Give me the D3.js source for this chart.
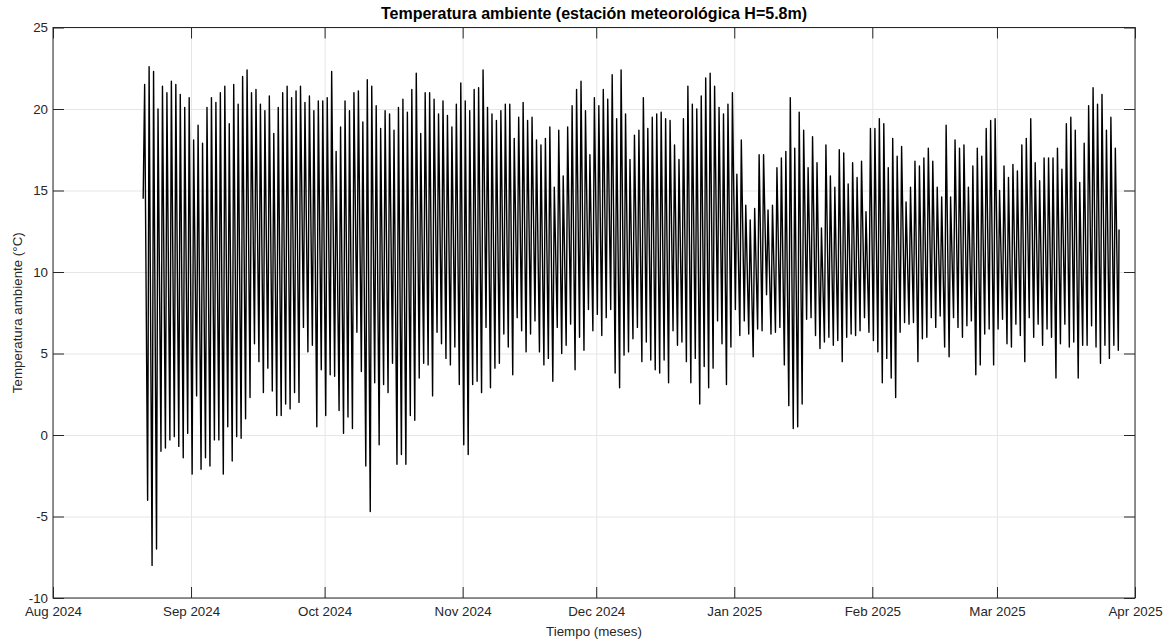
<!DOCTYPE html>
<html>
<head>
<meta charset="utf-8">
<script src="https://cdn.jsdelivr.net/npm/d3@7"></script>
<style>
body { margin: 0; background: #fff; }
text { font-family: "Liberation Sans", Arial, Helvetica, sans-serif; }
</style>
</head>
<body>
<script>
const width = 1174;
const height = 642;
const margin = {left: 53, right: 39, top: 27.5, bottom: 44};
const innerW = width - margin.left - margin.right;
const innerH = height - margin.top - margin.bottom;

// first day of the record, one entry per day after it
const startDay = Date.UTC(2024, 7, 21);
const minHour = 6;
const maxHour = 14;

// daily minimum (early morning) readings, °C
const tmin = [
  14.5,-4.0,-8.0,-7.0,-1.0,-0.8,-0.3,-0.1,-0.7,-1.4,0.1,-2.4,2.4,-2.1,-1.4,-1.9,-0.3,-0.3,-2.4,0.5,-1.6,
  -0.1,-0.2,1.0,2.3,5.6,4.5,2.6,4.1,2.7,1.2,1.2,1.9,1.6,2.6,2.0,6.6,5.1,5.5,0.5,4.0,1.2,3.7,3.6,
  1.5,0.1,1.1,0.4,6.3,3.9,-1.9,-4.7,3.2,-0.6,3.1,2.6,4.4,-1.8,-1.2,-1.8,1.2,0.9,3.5,4.4,4.3,2.4,
  6.3,5.6,4.7,4.3,5.4,3.1,-0.6,-1.2,3.1,3.3,2.6,6.6,2.9,4.1,4.4,6.2,5.4,3.7,7.2,6.4,5.1,6.2,7.0,
  5.1,4.3,4.7,3.3,6.6,5.0,5.5,6.8,4.0,6.0,5.2,7.7,6.4,7.4,6.1,7.2,7.7,3.8,2.9,4.9,5.1,5.9,
  6.6,4.5,5.7,4.6,4.0,3.8,4.6,3.2,6.4,5.5,5.7,4.5,3.2,4.7,1.9,4.2,2.9,4.1,7.0,5.6,3.1,5.4,
  7.7,6.1,7.0,6.2,4.8,6.5,6.4,8.6,6.2,6.3,6.6,4.3,1.8,0.4,0.5,1.9,7.1,7.2,6.1,5.3,5.7,6.0,5.5,
  5.8,4.5,6.0,6.2,6.1,6.4,7.2,6.3,5.8,5.1,3.2,4.7,3.5,2.3,6.3,6.9,6.8,6.9,4.5,5.9,6.0,7.2,
  6.6,7.3,5.4,4.8,7.2,6.6,6.0,6.7,7.0,3.7,4.3,6.2,6.5,4.3,6.5,7.1,5.6,5.4,6.8,6.1,4.5,7.2,6.0,
  6.8,5.5,6.5,6.0,3.5,5.6,6.8,5.4,5.7,3.5,5.5,5.5,6.7,5.4,4.4,5.5,4.7,5.5,5.2
];

// daily maximum (afternoon) readings, °C
const tmax = [
  21.5,22.6,22.3,20.0,21.4,21.0,21.7,21.5,20.9,20.1,20.7,18.1,19.0,17.9,20.1,20.7,20.4,21.0,21.4,19.1,21.5,
  20.3,22.0,22.4,21.0,21.2,20.3,19.9,20.8,18.5,20.1,21.0,21.4,20.7,21.1,21.4,20.4,20.8,19.9,20.5,20.5,20.7,22.3,
  17.4,18.9,20.5,19.9,21.0,21.1,19.2,21.8,21.4,20.2,18.8,19.9,19.7,18.7,20.1,20.6,19.8,21.2,22.2,18.5,21.0,21.0,20.6,
  19.7,20.5,19.6,18.9,20.3,21.6,20.5,19.9,21.2,21.3,22.4,20.1,19.7,19.3,19.9,20.3,20.3,18.2,19.5,20.4,19.3,19.5,
  18.1,17.8,18.2,18.9,15.2,18.7,15.9,18.9,20.2,21.2,21.7,19.9,17.2,20.7,20.2,21.2,20.6,22.1,19.4,22.4,19.7,16.9,18.4,
  18.7,20.7,18.8,19.5,19.7,19.8,19.4,19.3,17.8,16.9,19.4,21.4,20.3,20.0,20.8,21.9,22.2,21.4,20.1,19.7,20.3,21.0,
  16.0,18.1,14.1,13.2,13.9,17.2,17.2,13.8,14.1,16.4,17.0,17.4,20.7,17.6,19.8,18.7,16.4,18.3,16.7,12.7,17.8,15.9,
  15.2,17.5,17.3,15.4,16.7,15.8,16.8,13.7,18.8,18.8,19.4,19.1,16.4,18.2,17.1,17.7,14.3,15.2,16.8,16.5,17.0,17.6,16.8,
  15.2,14.6,19.0,14.6,18.1,17.6,17.8,15.2,16.5,17.6,17.1,18.8,19.3,19.4,15.0,16.5,15.8,16.6,16.2,17.8,18.2,19.4,
  16.7,15.6,17.0,17.0,17.0,17.6,16.3,19.1,19.5,18.7,15.5,17.9,20.2,21.3,20.3,20.9,18.7,19.5,17.6
];

// last reading of the record
const lastValue = 12.6;
const lastHour = 10;

const yTicks = [-10, -5, 0, 5, 10, 15, 20, 25];
const xTicks = [
  new Date(Date.UTC(2024, 7, 1)), new Date(Date.UTC(2024, 8, 1)), new Date(Date.UTC(2024, 9, 1)),
  new Date(Date.UTC(2024, 10, 1)), new Date(Date.UTC(2024, 11, 1)), new Date(Date.UTC(2025, 0, 1)),
  new Date(Date.UTC(2025, 1, 1)), new Date(Date.UTC(2025, 2, 1)), new Date(Date.UTC(2025, 3, 1))
];
const monthNames = ['Jan','Feb','Mar','Apr','May','Jun','Jul','Aug','Sep','Oct','Nov','Dec'];

const hour = 3600 * 1000;
const day = 24 * hour;
const points = [];
tmin.forEach((v, i) => {
  points.push({t: new Date(startDay + i * day + minHour * hour), v: v});
  if (i < tmax.length) points.push({t: new Date(startDay + i * day + maxHour * hour), v: tmax[i]});
});
points.push({t: new Date(startDay + (tmin.length - 1) * day + lastHour * hour), v: lastValue});

const x = d3.scaleUtc()
  .domain([xTicks[0], xTicks[xTicks.length - 1]])
  .range([0, innerW]);
const y = d3.scaleLinear()
  .domain([-10, 25])
  .range([innerH, 0]);

const svg = d3.select("body").append("svg")
  .attr("width", width)
  .attr("height", height);

const plot = svg.append("g")
  .attr("transform", `translate(${margin.left},${margin.top})`);

// grid
plot.append("g")
  .attr("class", "grid")
  .call(d3.axisLeft(y).tickValues(yTicks).tickSize(-innerW).tickFormat(""))
  .call(g => g.select(".domain").remove())
  .call(g => g.selectAll("line").attr("stroke", "#e6e6e6"));
plot.append("g")
  .attr("class", "grid")
  .attr("transform", `translate(0,${innerH})`)
  .call(d3.axisBottom(x).tickValues(xTicks).tickSize(-innerH).tickFormat(""))
  .call(g => g.select(".domain").remove())
  .call(g => g.selectAll("line").attr("stroke", "#e6e6e6"));

// data
plot.append("path")
  .datum(points)
  .attr("fill", "none")
  .attr("stroke", "#000")
  .attr("stroke-width", 1.4)
  .attr("stroke-linejoin", "round")
  .attr("d", d3.line().x(d => x(d.t)).y(d => y(d.v)));

// axes, ticks pointing inward on all sides
const tickLen = 11;
const axisColor = "#262626";
const fmtMonth = d => `${monthNames[d.getUTCMonth()]} ${d.getUTCFullYear()}`;

const styleAxis = g => {
  g.select(".domain").remove();
  g.selectAll("line").attr("stroke", axisColor);
  g.selectAll("text").attr("fill", axisColor).style("font-size", "13.33px");
};

plot.append("g")
  .call(d3.axisLeft(y).tickValues(yTicks).tickSize(-tickLen).tickPadding(5).tickFormat(d => String(d)))
  .call(styleAxis);
plot.append("g")
  .attr("transform", `translate(${innerW},0)`)
  .call(d3.axisRight(y).tickValues(yTicks).tickSize(-tickLen).tickFormat(""))
  .call(styleAxis);
plot.append("g")
  .attr("transform", `translate(0,${innerH})`)
  .call(d3.axisBottom(x).tickValues(xTicks).tickSize(-tickLen).tickPadding(9).tickFormat(fmtMonth))
  .call(styleAxis);
plot.append("g")
  .call(d3.axisTop(x).tickValues(xTicks).tickSize(-tickLen).tickFormat(""))
  .call(styleAxis);

plot.append("rect")
  .attr("width", innerW)
  .attr("height", innerH)
  .attr("fill", "none")
  .attr("stroke", axisColor)
  .attr("stroke-width", 1);

// labels
svg.append("text")
  .attr("x", margin.left + innerW / 2)
  .attr("y", 19)
  .attr("text-anchor", "middle")
  .style("font-size", "16px")
  .style("font-weight", "bold")
  .attr("fill", "#000")
  .text("Temperatura ambiente (estación meteorológica H=5.8m)");

svg.append("text")
  .attr("x", margin.left + innerW / 2)
  .attr("y", 636)
  .attr("text-anchor", "middle")
  .style("font-size", "13.33px")
  .attr("fill", axisColor)
  .text("Tiempo (meses)");

svg.append("text")
  .attr("transform", `translate(22,${margin.top + innerH / 2}) rotate(-90)`)
  .attr("text-anchor", "middle")
  .style("font-size", "13.33px")
  .attr("fill", axisColor)
  .text("Temperatura ambiente (°C)");
</script>
</body>
</html>
